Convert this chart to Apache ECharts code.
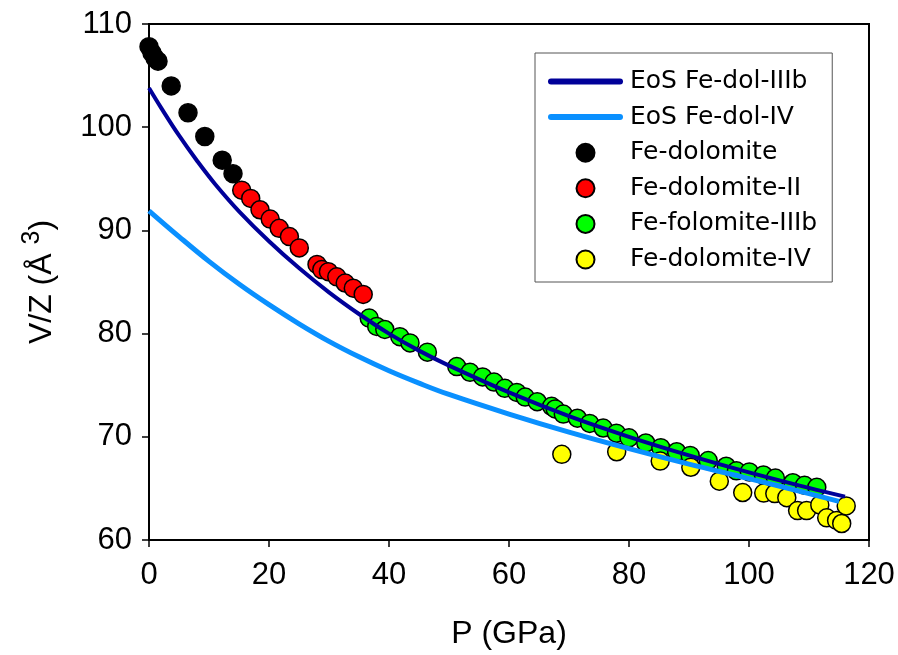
<!DOCTYPE html>
<html>
<head>
<meta charset="utf-8">
<script src="https://cdn.jsdelivr.net/npm/echarts@6/dist/echarts.min.js"></script>
<style>
html,body{margin:0;padding:0;background:#fff;}
#chart{width:898px;height:655px;}
</style>
</head>
<body>
<div id="chart"></div>
<script>
// EoS curves
const eosIIIbP = [0, 2, 5, 8, 11, 15, 20, 25, 30, 35, 40, 45, 50, 60, 70, 80, 90, 100, 110, 116];
const eosIIIbV = [103.8, 101.9, 99.2, 96.75, 94.5, 91.85, 88.95, 86.35, 84.0, 81.9, 80.0, 78.35, 76.9, 74.3, 72.0, 70.0, 68.2, 66.55, 65.05, 64.2];
const eosIVP = [0, 5, 10, 15, 20, 25, 30, 35, 40, 45, 50, 60, 70, 80, 90, 100, 110, 115];
const eosIVV = [91.9, 89.4, 87.0, 84.8, 82.8, 80.95, 79.25, 77.75, 76.4, 75.2, 74.1, 72.2, 70.45, 68.85, 67.35, 65.95, 64.5, 63.75];

// Fe-dolomite
const dolP = [0.0, 0.5, 1.0, 1.5, 3.7, 6.5, 9.3, 12.2, 14.0];
const dolV = [107.8, 107.2, 106.7, 106.4, 104.0, 101.4, 99.1, 96.8, 95.5];
// Fe-dolomite-II
const dolIIP = [15.45, 16.95, 18.5, 20.2, 21.7, 23.4, 25.05, 28.0, 28.8, 29.9, 31.3, 32.7, 34.05, 35.7];
const dolIIV = [93.9, 93.1, 92.0, 91.1, 90.2, 89.4, 88.3, 86.7, 86.2, 86.0, 85.5, 84.9, 84.4, 83.8];
// Fe-folomite-IIIb
const dolIIIbP = [36.7, 37.95, 39.3, 41.8, 43.5, 46.4, 51.3, 53.5, 55.6, 57.5, 59.3, 61.3, 62.7, 64.7, 67.1, 67.7, 69.05, 71.4, 73.45, 75.7, 77.9, 80.0, 82.8, 85.3, 87.95, 90.2, 93.2, 96.2, 97.9, 100.05, 102.4, 104.4, 107.3, 109.25, 111.3];
const dolIIIbV = [81.5, 80.7, 80.4, 79.7, 79.1, 78.2, 76.8, 76.25, 75.8, 75.3, 74.7, 74.3, 73.85, 73.4, 72.95, 72.7, 72.2, 71.8, 71.3, 70.85, 70.35, 69.9, 69.4, 68.95, 68.55, 68.2, 67.7, 67.15, 66.7, 66.6, 66.3, 66.0, 65.55, 65.3, 65.1];
// Fe-dolomite-IV
const dolIVP = [68.8, 77.95, 85.2, 90.3, 95.05, 98.95, 102.45, 104.3, 106.3, 108.1, 109.6, 111.8, 112.95, 114.6, 115.45, 116.2];
const dolIVV = [68.3, 68.55, 67.65, 67.05, 65.7, 64.6, 64.55, 64.5, 64.1, 62.85, 62.85, 63.4, 62.15, 61.9, 61.6, 63.3];

const xTicks = [0, 20, 40, 60, 80, 100, 120];
const yTicks = [60, 70, 80, 90, 100, 110];

const zip = (a, b) => a.map((v, i) => [v, b[i]]);

const chart = echarts.init(document.getElementById('chart'), null, {renderer: 'canvas'});
const tickFont = 'Liberation Sans, Arial, sans-serif';
const scat = (name, P, V, color) => ({
  name, type: 'scatter', data: zip(P, V), symbol: 'circle', symbolSize: 18,
  itemStyle: {color, borderColor: '#000', borderWidth: 1.5, opacity: 1},
  emphasis: {disabled: true}, animation: false
});

chart.setOption({
  animation: false,
  backgroundColor: '#fff',
  grid: {left: 149, right: 29, top: 24, bottom: 111, show: true, borderColor: '#000', borderWidth: 2, backgroundColor: 'transparent'},
  xAxis: {
    type: 'value', min: xTicks[0], max: xTicks[xTicks.length - 1], interval: 20,
    name: 'P (GPa)', nameLocation: 'middle', nameGap: 78,
    nameTextStyle: {fontFamily: tickFont, fontSize: 32, color: '#000'},
    axisLine: {show: true, lineStyle: {color: '#000', width: 2}},
    axisTick: {show: true, inside: false, length: 7, lineStyle: {color: '#000', width: 1.5}},
    axisLabel: {fontFamily: tickFont, fontSize: 31, color: '#000', margin: 20},
    splitLine: {show: false}
  },
  yAxis: {
    type: 'value', min: yTicks[0], max: yTicks[yTicks.length - 1], interval: 10,
    name: '{a|V/Z (Å }{s|3}{a|)}', nameLocation: 'middle', nameGap: 85, nameRotate: 90,
    nameTextStyle: {
      fontFamily: tickFont, fontSize: 32, color: '#000',
      rich: {
        a: {fontFamily: tickFont, fontSize: 32, color: '#000'},
        s: {fontFamily: tickFont, fontSize: 25, color: '#000', verticalAlign: 'bottom', padding: [0, 0, 19, 0]}
      }
    },
    axisLine: {show: true, lineStyle: {color: '#000', width: 2}},
    axisTick: {show: true, inside: false, length: 7, lineStyle: {color: '#000', width: 1.5}},
    axisLabel: {fontFamily: tickFont, fontSize: 31, color: '#000', margin: 17},
    splitLine: {show: false}
  },
  legend: {
    orient: 'vertical', left: 535, top: 53,
    padding: [16, 15, 10, 13],
    itemWidth: 69, itemHeight: 18, itemGap: 10.6,
    borderColor: '#555', borderWidth: 1, backgroundColor: '#fff',
    textStyle: {fontFamily: 'DejaVu Sans, sans-serif', fontSize: 25, color: '#000', padding: [0, 0, 0, 5]},
    data: [
      {name: 'EoS Fe-dol-IIIb', itemStyle: {opacity: 0}, lineStyle: {width: 6, cap: 'round'}},
      {name: 'EoS Fe-dol-IV', itemStyle: {opacity: 0}, lineStyle: {width: 6, cap: 'round'}},
      'Fe-dolomite', 'Fe-dolomite-II', 'Fe-folomite-IIIb', 'Fe-dolomite-IV'
    ],
    selectedMode: false
  },
  series: [
    {name: 'EoS Fe-dol-IIIb', type: 'line', data: zip(eosIIIbP, eosIIIbV), smooth: 0.4, symbol: 'none', showSymbol: false,
     lineStyle: {color: '#000099', width: 4}, itemStyle: {color: '#000099'}, emphasis: {disabled: true}},
    {name: 'EoS Fe-dol-IV', type: 'line', data: zip(eosIVP, eosIVV), smooth: 0.4, symbol: 'none', showSymbol: false,
     lineStyle: {color: '#0a90ff', width: 5}, itemStyle: {color: '#0a90ff'}, emphasis: {disabled: true}},
    scat('Fe-dolomite', dolP, dolV, '#000000'),
    scat('Fe-dolomite-II', dolIIP, dolIIV, '#ff0000'),
    scat('Fe-folomite-IIIb', dolIIIbP, dolIIIbV, '#00ff00'),
    scat('Fe-dolomite-IV', dolIVP, dolIVV, '#ffff00')
  ]
});
</script>
</body>
</html>
